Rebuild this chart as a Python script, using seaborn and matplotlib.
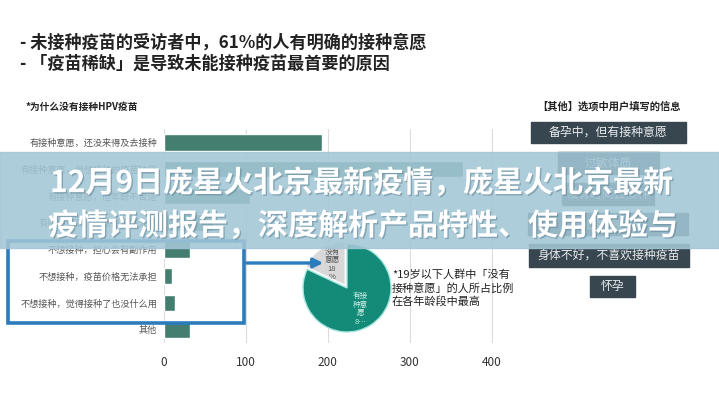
import matplotlib
matplotlib.use("Agg")
import matplotlib.pyplot as plt
import matplotlib.patheffects as pe
from matplotlib.patches import Rectangle, FancyArrowPatch
import seaborn as sns

sns.set_style("white")
plt.rcParams['font.family'] = ['Noto Sans CJK SC', 'DejaVu Sans']

# data
reasons = [
    "有接种意愿，还没来得及去接种",
    "有接种意愿，但想接种的疫苗缺货",
    "有接种意愿，但年龄不合适",
    "有接种意愿，但疫苗价格太高",
    "不想接种，担心会有副作用",
    "不想接种，疫苗价格无法承担",
    "不想接种，觉得接种了也没什么用",
    "其他",
]
counts = [193, 365, 105, 60, 32, 10, 13, 32]
x_ticks = [0, 100, 200, 300, 400]

pie_names = ["没有意愿", "有接种意愿"]
pie_values = [18, 82]
pie_texts = ["没有\n意愿\n18\n%", "有接\n种意\n愿\n8…"]

other_infos = ["备孕中，但有接种意愿", "过敏体质", "没有时间去接种",
               "担心影响生育", "身体不好，不喜欢接种疫苗", "怀孕"]

headline = ["- 未接种疫苗的受访者中，61%的人有明确的接种意愿",
            "- 「疫苗稀缺」是导致未能接种疫苗最首要的原因"]
banner = ["12月9日庞星火北京最新疫情，庞星火北京最新",
          "疫情评测报告，深度解析产品特性、使用体验与"]

W, H = 719, 400
fig = plt.figure(figsize=(W / 100, H / 100), dpi=100)


def box(left, top, right, bottom):
    return [left / W, 1 - bottom / H, (right - left) / W, (bottom - top) / H]


# bar chart
ax = fig.add_axes(box(164, 129, 500, 343))
sns.barplot(x=counts, y=reasons, color="#3b8776", width=0.62, ax=ax)
ax.set_xlim(0, 410)
ax.set_xticks(x_ticks)
ax.grid(axis="x", color="#dcdcdc", lw=0.8)
ax.set_axisbelow(True)
for s in ax.spines.values():
    s.set_visible(False)
ax.tick_params(axis="x", length=0, pad=9, labelsize=8.5, labelcolor="#333333")
ax.tick_params(axis="y", length=0, pad=5, labelsize=6.6, labelcolor="#555555")
ax.set_xlabel("")
ax.set_ylabel("")

# pie chart
pax = fig.add_axes(box(297, 238, 397, 338))
wedges, texts = pax.pie(pie_values, labels=pie_texts, colors=["#d8d8d8", "#148b79"],
                        startangle=90, explode=[0.07, 0], labeldistance=0.56,
                        wedgeprops=dict(linewidth=1), textprops=dict(fontsize=5.5))
wedges[0].set_edgecolor("white")
wedges[1].set_edgecolor("#a8e6e0")
texts[0].set_color("#555555")
texts[1].set_color("#cdeee6")
for t in texts:
    t.set_ha("center")
    t.set_va("center")
    t.set_linespacing(1.1)
R = 100 / 88
pax.set_xlim(-R, R)
pax.set_ylim(-R, R)

# overlay for annotations
ov = fig.add_axes([0, 0, 1, 1], zorder=10)
ov.set_xlim(0, W)
ov.set_ylim(H, 0)
ov.axis("off")
ov.patch.set_alpha(0)

ov.text(20, 43, headline[0], fontsize=12.3, fontweight="bold", color="#222222", va="center")
ov.text(20, 64, headline[1], fontsize=12.3, fontweight="bold", color="#222222", va="center")
ov.text(26, 107, "*为什么没有接种HPV疫苗", fontsize=7, fontweight="bold", color="#222222", va="center")

ov.text(392, 288, "*19岁以下人群中「没有\n接种意愿」的人所占比例\n在各年龄段中最高",
        fontsize=8, color="#222222", va="center", linespacing=1.35)

# highlight frame and arrow
ov.add_patch(Rectangle((8, 241), 236, 82, fill=False, ec="#2a7cbd", lw=2.6, zorder=3))
ov.add_artist(FancyArrowPatch((244, 263), (326, 263), arrowstyle="-|>", mutation_scale=14,
                              color="#2a7cbd", lw=2.4, zorder=3))

# right panel
ov.text(609, 107, "【其他】选项中用户填写的信息", fontsize=7.4, fontweight="bold",
        color="#222222", ha="center", va="center")
rects = [(531, 122, 686, 143), (558, 152, 659, 174), (562, 183, 654, 205),
         (528, 213, 688, 235), (529, 244, 689, 267), (590, 276, 635, 297)]
for (l, t, r, b), txt in zip(rects, other_infos):
    ov.add_patch(Rectangle((l, t), r - l, b - t, color="#38464f", zorder=2))
    ov.text((l + r) / 2, (t + b) / 2, txt, fontsize=8.6, color="#e8ecee",
            ha="center", va="center", zorder=2)

# banner
ov.add_patch(Rectangle((0, 152), W, 96, color="#a3c6d6", alpha=0.88, zorder=5))
shadow = [pe.withSimplePatchShadow(offset=(1, -1), shadow_rgbFace="#5a7d8e", alpha=0.5)]
ov.text(50, 183, banner[0], fontsize=21.6, fontweight="bold", color="white",
        va="center", zorder=6, path_effects=shadow)
ov.text(48, 226, banner[1], fontsize=21.6, fontweight="bold", color="white",
        va="center", zorder=6, path_effects=shadow)

fig.savefig("out.png", dpi=100)
